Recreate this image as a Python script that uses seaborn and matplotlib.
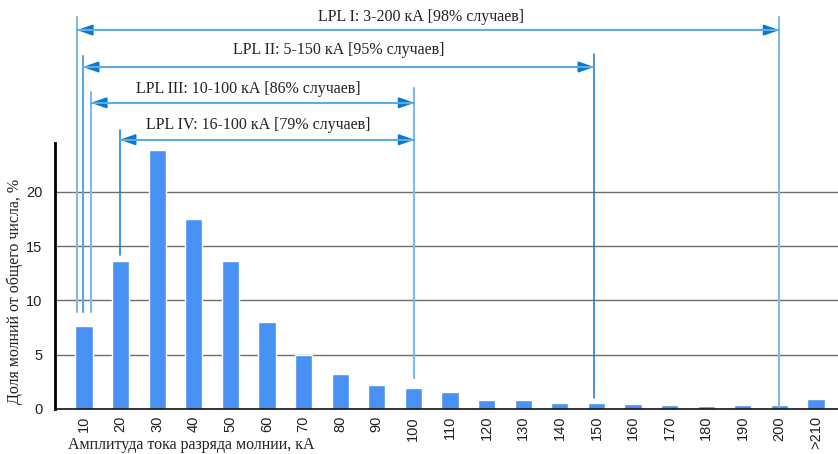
import matplotlib
matplotlib.use("Agg")
import matplotlib.pyplot as plt
import seaborn as sns

# Lightning current amplitude distribution (share of strokes, %)
categories = ["10", "20", "30", "40", "50", "60", "70", "80", "90", "100",
              "110", "120", "130", "140", "150", "160", "170", "180", "190",
              "200", ">210"]
shares = [7.6, 13.6, 23.9, 17.5, 13.6, 8.0, 5.0, 3.2, 2.2, 1.9,
          1.55, 0.85, 0.85, 0.55, 0.55, 0.45, 0.35, 0.25, 0.35, 0.35, 0.9]
y_ticks = [0, 5, 10, 15, 20]

lpl_labels = ["LPL I: 3-200 кА [98% случаев]",
              "LPL II: 5-150 кА [95% случаев]",
              "LPL III: 10-100 кА [86% случаев]",
              "LPL IV: 16-100 кА [79% случаев]"]

x_label = "Амплитуда тока разряда молнии, кА"
y_label = "Доля молний от общего числа, %"

# layout of the range markers (category-index x, value-axis y)
lpl_x = [(-0.19, 19.0), (-0.03, 13.94), (0.19, 9.03), (0.98, 9.03)]
lpl_text_x = [9.2, 6.95, 4.5, 4.75]
lpl_arrow_y = [34.9, 31.5, 28.2, 24.8]
lpl_top_y = [(36.1, 36.1), (32.5, 32.7), (29.2, 29.6), (25.7, 25.7)]
lpl_bottom_y = [(8.9, 0.2), (8.9, 1.0), (8.9, 2.85), (14.2, 2.85)]
lpl_text_y = [36.1, 33.05, 29.5, 26.15]
lpl_vcolor = [("#7fbbe8", "#7fbbe8"), ("#5aa6e0", "#1f74c0"),
              ("#7fbbe8", "#7fbbe8"), ("#1a86dc", "#7fbbe8")]
lpl_vwidth = [(1.5, 1.5), (1.5, 1.1), (1.5, 1.5), (1.2, 1.5)]

sns.set_theme(style="white")
plt.rcParams["font.family"] = ["Liberation Sans", "DejaVu Sans"]

fig = plt.figure(figsize=(8.38, 4.54), dpi=100)
ax = fig.add_axes([55 / 838, 45 / 454, 783 / 838, 266 / 454])

sns.barplot(x=categories, y=shares, color="#4a91f6", saturation=1,
            width=0.47, ax=ax, zorder=3)

ax.set_xlim(-0.79, 20.6)
ax.set_ylim(0, 24.5)
ax.set_yticks(y_ticks)
for t in y_ticks[1:]:
    ax.axhline(t, color="#6e6e6e", lw=1, zorder=1)

ax.tick_params(axis="y", length=0, pad=9, labelsize=10.5, colors="#222222")
ax.tick_params(axis="x", length=0, pad=5, labelsize=10.5, colors="#222222",
               labelrotation=90)
for side in ["top", "right"]:
    ax.spines[side].set_visible(False)
ax.spines["left"].set_color("black")
ax.spines["left"].set_linewidth(2)
ax.spines["bottom"].set_color("#111111")
ax.spines["bottom"].set_linewidth(1.2)
ax.spines["left"].set_zorder(4)
ax.spines["bottom"].set_zorder(4)
ax.set_xlabel("")
ax.set_ylabel("")

serif = ["Liberation Serif", "DejaVu Serif"]
fig.text(68 / 838, 1 - 445 / 454, x_label, family=serif, fontsize=11.5,
         ha="left", va="center", color="#222222")
fig.text(15 / 838, 1 - 291 / 454, y_label, family=serif, fontsize=11.5,
         rotation=90, ha="center", va="center", color="#222222")

line_light = "#5eaae2"
head_dark = "#0a78d2"
for i, label in enumerate(lpl_labels):
    x0, x1 = lpl_x[i]
    y = lpl_arrow_y[i]
    # vertical limit lines
    for j, xv in enumerate((x0, x1)):
        ax.plot([xv, xv], [lpl_bottom_y[i][j], lpl_top_y[i][j]],
                color=lpl_vcolor[i][j], lw=lpl_vwidth[i][j],
                clip_on=False, zorder=5)
    # horizontal range line with arrow heads
    ax.plot([x0, x1], [y, y], color=line_light, lw=1.5, clip_on=False, zorder=5)
    for tail, tip in ((x0 + 0.45, x0), (x1 - 0.45, x1)):
        ax.annotate("", xy=(tip, y), xytext=(tail, y), annotation_clip=False,
                    arrowprops=dict(arrowstyle="-|>,head_length=0.8,head_width=0.28",
                                    color=head_dark, lw=1.2,
                                    shrinkA=0, shrinkB=0))
    ax.text(lpl_text_x[i], lpl_text_y[i], label, family=serif, fontsize=11.5,
            ha="center", va="center", color="#222222", clip_on=False)

fig.savefig("out.png", dpi=100)
